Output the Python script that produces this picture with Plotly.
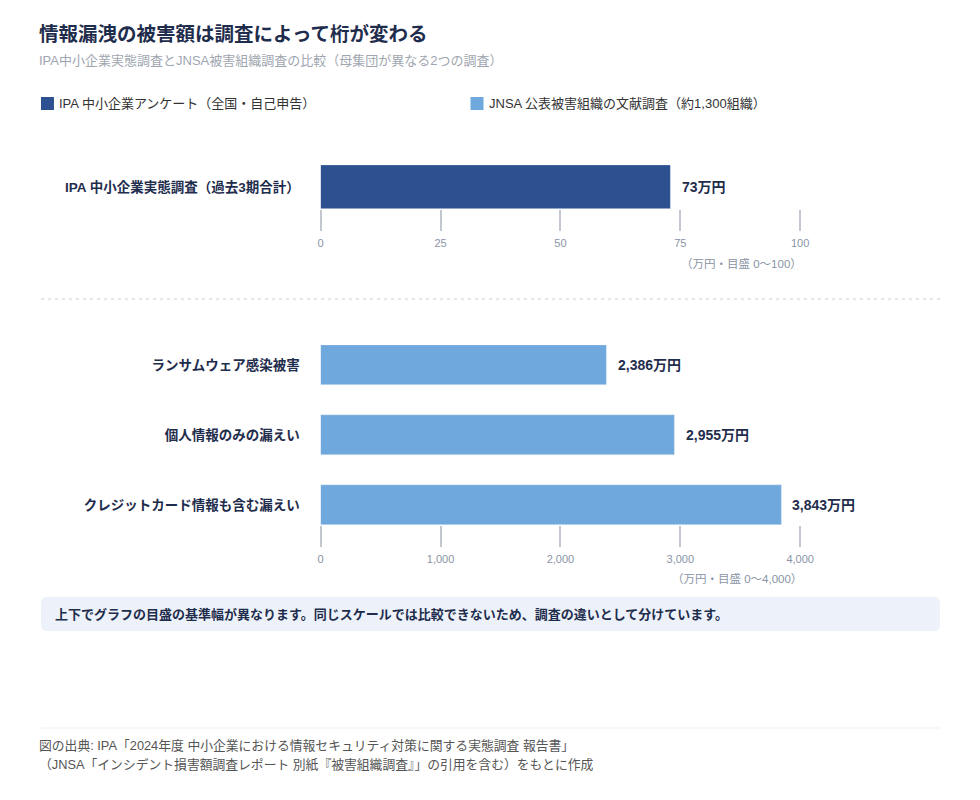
import plotly.graph_objects as go

# data
ipa_cats = ["IPA 中小企業実態調査（過去3期合計）"]
ipa_vals = [73]
jnsa_cats = ["ランサムウェア感染被害", "個人情報のみの漏えい", "クレジットカード情報も含む漏えい"]
jnsa_vals = [2386, 2955, 3843]
series_names = ["IPA 中小企業アンケート（全国・自己申告）", "JNSA 公表被害組織の文献調査（約1,300組織）"]
top_ticks = [0, 25, 50, 75, 100]
bottom_ticks = [0, 1000, 2000, 3000, 4000]

# page has a body margin; the figure ends up 964px wide on screen
W, H = 964, 784
OFFX, OFFY = 10, 8
DARK = "#2D5090"
LIGHT = "#6FA8DC"
NAVY = "#1F2D4D"
FONT = "Liberation Sans, Noto Sans CJK JP, sans-serif"


def px(x):
    return (x - OFFX) / W


def py(y):
    return 1 - (y - OFFY) / H


def text_at(x, y, text, size, color, anchor="left", shift=-4):
    fig.add_annotation(x=px(x), y=py(y), xref="paper", yref="paper", text=text,
                       showarrow=False, xanchor=anchor, yanchor="middle", xshift=shift,
                       font=dict(size=size, color=color))


fig = go.Figure()

fig.add_trace(go.Bar(x=ipa_vals, y=ipa_cats, orientation="h", marker_color=DARK,
                     width=1, xaxis="x", yaxis="y", showlegend=False, hoverinfo="skip"))
fig.add_trace(go.Bar(x=jnsa_vals, y=jnsa_cats, orientation="h", marker_color=LIGHT,
                     width=40 / 70, xaxis="x2", yaxis="y2", showlegend=False, hoverinfo="skip"))

axis_common = dict(
    domain=[px(320), px(800)], showgrid=False, zeroline=False, showline=False,
    ticks="outside", ticklen=21, tickwidth=2, tickcolor="#C3C7D0",
    ticklabelstandoff=3,
    tickfont=dict(size=11, color="#8A94A6", family=FONT),
)
ycommon = dict(showgrid=False, zeroline=False, showline=False, ticks="",
               ticklabelstandoff=20,
               tickfont=dict(size=13.5, color=NAVY, family=FONT, weight="bold"))

w2 = 40 / 70
fig.update_layout(
    width=980, height=H, margin=dict(l=0, r=0, t=0, b=0),
    paper_bgcolor="white", plot_bgcolor="white",
    font=dict(family=FONT),
    bargap=0,
    xaxis=dict(axis_common, range=[0, 100], anchor="y",
               tickvals=top_ticks, ticktext=[f"{t:,}" for t in top_ticks]),
    yaxis=dict(ycommon, domain=[py(209), py(165)], range=[-0.5, 0.5], anchor="x"),
    xaxis2=dict(axis_common, range=[0, 4000], anchor="y2",
                tickvals=bottom_ticks, ticktext=[f"{t:,}" for t in bottom_ticks]),
    yaxis2=dict(ycommon, domain=[py(525), py(345)],
                range=[len(jnsa_cats) - 1 + w2 / 2, -w2 / 2], anchor="x2"),
)

# value labels
for v, c in zip(ipa_vals, ipa_cats):
    fig.add_annotation(x=v, y=c, xref="x", yref="y", text=f"<b>{v:,}万円</b>",
                       showarrow=False, xanchor="left", xshift=9,
                       font=dict(size=14, color=NAVY))
for v, c in zip(jnsa_vals, jnsa_cats):
    fig.add_annotation(x=v, y=c, xref="x2", yref="y2", text=f"<b>{v:,}万円</b>",
                       showarrow=False, xanchor="left", xshift=9,
                       font=dict(size=14, color=NAVY))

# axis unit notes
text_at(800, 263, "（万円・目盛 0〜100）", 11.5, "#8A94A6", anchor="right", shift=4)
text_at(800, 578, "（万円・目盛 0〜4,000）", 11.5, "#8A94A6", anchor="right", shift=4)

# title & subtitle
text_at(40, 34, "<b>情報漏洩の被害額は調査によって桁が変わる</b>", 19.5, NAVY)
text_at(40, 61, "IPA中小企業実態調査とJNSA被害組織調査の比較（母集団が異なる2つの調査）", 13, "#A0A6B0")

# legend
for name, col, x0 in zip(series_names, [DARK, LIGHT], [40, 470]):
    fig.add_shape(type="rect", xref="paper", yref="paper",
                  x0=px(x0), x1=px(x0 + 13), y0=py(110), y1=py(97),
                  fillcolor=col, line_width=0)
    text_at(x0 + 20, 103.5, name, 13, "#333333")

# divider
fig.add_shape(type="line", xref="paper", yref="paper", x0=px(40), x1=px(940),
              y0=py(299), y1=py(299), line=dict(color="#E4E6EE", width=2, dash="3px,4px"))

# note box with rounded corners
r = 6
x0, x1, y0, y1 = 40, 940, 597, 631
path = (f"M {px(x0 + r)},{py(y0)} L {px(x1 - r)},{py(y0)} Q {px(x1)},{py(y0)} {px(x1)},{py(y0 + r)} "
        f"L {px(x1)},{py(y1 - r)} Q {px(x1)},{py(y1)} {px(x1 - r)},{py(y1)} "
        f"L {px(x0 + r)},{py(y1)} Q {px(x0)},{py(y1)} {px(x0)},{py(y1 - r)} "
        f"L {px(x0)},{py(y0 + r)} Q {px(x0)},{py(y0)} {px(x0 + r)},{py(y0)} Z")
fig.add_shape(type="path", xref="paper", yref="paper", path=path,
              fillcolor="#EDF2FA", line_width=0, layer="below")
text_at(56, 614, "<b>上下でグラフの目盛の基準幅が異なります。同じスケールでは比較できないため、調査の違いとして分けています。</b>",
        13, NAVY)

# source
fig.add_shape(type="line", xref="paper", yref="paper", x0=px(40), x1=px(940),
              y0=py(728), y1=py(728), line=dict(color="#EEF0F4", width=1))
text_at(40, 745, "図の出典: IPA「2024年度 中小企業における情報セキュリティ対策に関する実態調査 報告書」",
        12.8, "#555555")
text_at(40, 764, "（JNSA「インシデント損害額調査レポート 別紙『被害組織調査』」の引用を含む）をもとに作成",
        12.8, "#555555")

fig.write_html("out.html")
